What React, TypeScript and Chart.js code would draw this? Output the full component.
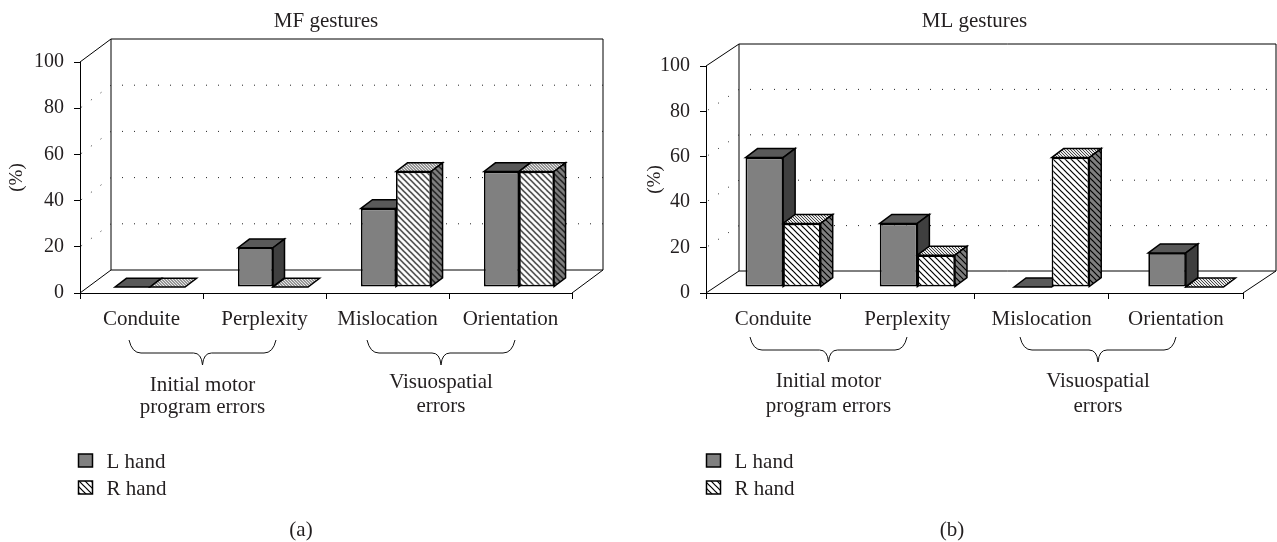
import React, { useEffect, useRef } from "react";
import { Chart, registerables } from "chart.js";

Chart.register(...registerables);

const categories = ["Conduite", "Perplexity", "Mislocation", "Orientation"];
const seriesNames = ["L hand", "R hand"];
const mfLeft = [0, 17, 34, 50];
const mfRight = [0, 0, 50, 50];
const mlLeft = [57, 28, 0, 15];
const mlRight = [28, 14, 57, 0];
const mfTitle = "MF gestures";
const mlTitle = "ML gestures";
const groupLines = [["Initial motor", "program errors"], ["Visuospatial", "errors"]];

const SERIF = '"Liberation Serif", serif';
const INK = "#231f20";

function stripes(period: number, lineWidth: number, bg: string, fg = "#000") {
  const c = document.createElement("canvas");
  c.width = c.height = period;
  const x = c.getContext("2d")!;
  x.fillStyle = bg;
  x.fillRect(0, 0, period, period);
  x.strokeStyle = fg;
  x.lineWidth = lineWidth;
  for (const o of [-period, 0, period]) {
    x.beginPath();
    x.moveTo(o - 1, -1);
    x.lineTo(o + period + 1, period + 1);
    x.stroke();
  }
  return x.createPattern(c, "repeat")!;
}

type Layout = {
  width: number; left: number; right: number; top: number; bottom: number;
  wallDx: number; wallDy: number; shiftX: number; shiftY: number; depthX: number; depthY: number;
  barPct: number;
  braces: { x0: number; x1: number; y: number; textY: number[] }[];
  legendX: number; legendY: number[]; tag: string; tagX: number;
};

function makeChart(canvas: HTMLCanvasElement, title: string, left: number[], right: number[], L: Layout) {
  const rFront = stripes(6, 1.2, "#fff");
  const rSide = stripes(6, 1.2, "#7f7f7f");
  const rTop = stripes(3, 0.9, "#e8e8e8", "#333");

  const poly = (ctx: CanvasRenderingContext2D, pts: number[][], fill: any) => {
    ctx.beginPath();
    pts.forEach((p, i) => (i ? ctx.lineTo(p[0], p[1]) : ctx.moveTo(p[0], p[1])));
    ctx.closePath();
    ctx.fillStyle = fill;
    ctx.fill();
    ctx.stroke();
  };

  const plugin = {
    id: "threeD",
    beforeDatasetsDraw(chart: any) {
      const ctx: CanvasRenderingContext2D = chart.ctx;
      const { left: l, right: r } = chart.chartArea;
      const y = chart.scales.y;
      const y0 = y.getPixelForValue(0);
      const y100 = y.getPixelForValue(100);
      const dx = L.wallDx, dy = L.wallDy;
      ctx.save();
      ctx.strokeStyle = "#000";
      ctx.lineWidth = 1;
      ctx.beginPath();
      ctx.moveTo(l, y100); ctx.lineTo(l + dx, y100 - dy); ctx.lineTo(r + dx, y100 - dy);
      ctx.lineTo(r + dx, y0 - dy); ctx.lineTo(l + dx, y0 - dy); ctx.lineTo(l + dx, y100 - dy);
      ctx.moveTo(l, y0); ctx.lineTo(l + dx, y0 - dy);
      ctx.moveTo(r, y0); ctx.lineTo(r + dx, y0 - dy);
      ctx.stroke();
      ctx.setLineDash([1, 11]);
      ctx.strokeStyle = "#222";
      for (const v of [20, 40, 60, 80]) {
        const p = y.getPixelForValue(v);
        ctx.beginPath();
        ctx.moveTo(l + dx + 11, p - dy);
        ctx.lineTo(r + dx, p - dy);
        ctx.moveTo(l + dx, p - dy);
        ctx.lineTo(l, p);
        ctx.stroke();
      }
      ctx.restore();

      ctx.save();
      ctx.translate(L.shiftX, L.shiftY);
      ctx.strokeStyle = "#000";
      ctx.lineWidth = 1.5;
      ctx.lineJoin = "miter";
      [0, 1].forEach((d) => {
        chart.getDatasetMeta(d).data.forEach((el: any) => {
          const { x, y: top, base, width } = el.getProps(["x", "y", "base", "width"], true);
          const x0 = x - width / 2, x1 = x + width / 2;
          const ex = L.depthX, ey = L.depthY;
          poly(ctx, [[x0, top], [x0 + ex, top - ey], [x1 + ex, top - ey], [x1, top]], d ? rTop : "#595959");
          if (base - top > 0.5) {
            poly(ctx, [[x1, top], [x1 + ex, top - ey], [x1 + ex, base - ey], [x1, base]], d ? rSide : "#3f3f3f");
          }
        });
      });
    },
    afterDatasetsDraw(chart: any) {
      const ctx: CanvasRenderingContext2D = chart.ctx;
      ctx.restore();
      ctx.save();
      ctx.fillStyle = INK;
      ctx.strokeStyle = "#111";
      ctx.lineWidth = 1;
      ctx.font = `21px ${SERIF}`;
      ctx.textAlign = "center";
      ctx.textBaseline = "middle";
      L.braces.forEach((b, i) => {
        const mid = (b.x0 + b.x1) / 2;
        const h = 13, tip = 12;
        ctx.beginPath();
        ctx.moveTo(b.x0, b.y);
        ctx.quadraticCurveTo(b.x0 + 3, b.y + h, b.x0 + 12, b.y + h);
        ctx.lineTo(mid - 9, b.y + h);
        ctx.quadraticCurveTo(mid - 1, b.y + h, mid, b.y + h + tip);
        ctx.quadraticCurveTo(mid + 1, b.y + h, mid + 9, b.y + h);
        ctx.lineTo(b.x1 - 12, b.y + h);
        ctx.quadraticCurveTo(b.x1 - 3, b.y + h, b.x1, b.y);
        ctx.stroke();
        groupLines[i].forEach((line, j) => ctx.fillText(line, mid, b.textY[j]));
      });
      ctx.fillText(L.tag, L.tagX, 530);
      ctx.textAlign = "left";
      seriesNames.forEach((name, i) => {
        const ly = L.legendY[i];
        ctx.fillStyle = i ? rFront : "#808080";
        ctx.strokeStyle = "#000";
        ctx.lineWidth = 1.5;
        ctx.fillRect(L.legendX, ly - 7, 14, 13);
        ctx.strokeRect(L.legendX, ly - 7, 14, 13);
        ctx.fillStyle = INK;
        ctx.fillText(name, L.legendX + 28, ly + 1);
      });
      ctx.restore();
    },
  };

  return new Chart(canvas, {
    type: "bar",
    data: {
      labels: categories,
      datasets: [
        { label: seriesNames[0], data: left, backgroundColor: "#808080" },
        { label: seriesNames[1], data: right, backgroundColor: rFront as any },
      ].map((d) => ({
        ...d,
        borderColor: "#000",
        borderWidth: 1.7,
        borderSkipped: false,
        clip: false as any,
        categoryPercentage: L.barPct,
        barPercentage: 1,
      })),
    },
    options: {
      responsive: false,
      animation: false,
      devicePixelRatio: 1,
      layout: { padding: { left: 6, right: L.width - L.right, top: 0, bottom: 0 } },
      plugins: {
        legend: { display: false },
        tooltip: { enabled: false },
        title: {
          display: true,
          fullSize: false,
          text: title,
          color: INK,
          font: { family: SERIF, size: 21, weight: "normal", lineHeight: 1 },
          padding: { top: 11, bottom: L.top - 11 - 21 },
        },
      },
      scales: {
        x: {
          grid: { drawOnChartArea: false, tickLength: 6, color: "#000", offset: true },
          border: { color: "#000", width: 1 },
          ticks: { color: INK, font: { family: SERIF, size: 21 }, padding: 8, maxRotation: 0, autoSkip: false },
          afterFit: (s: any) => { s.height = 542 - L.bottom; },
        },
        y: {
          min: 0,
          max: 100,
          grid: { drawOnChartArea: false, tickLength: 6, color: "#000" },
          border: { color: "#000", width: 1 },
          ticks: { stepSize: 20, color: INK, font: { family: SERIF, size: 20 }, padding: 10 },
          title: { display: true, text: "(%)", color: INK, font: { family: SERIF, size: 19 }, padding: { top: 0, bottom: 0 } },
          afterFit: (s: any) => { s.width = L.left - 6; },
        },
      },
    } as any,
    plugins: [plugin as any],
  });
}

const layoutA: Layout = {
  width: 638, left: 80, right: 572, top: 62, bottom: 293,
  wallDx: 31, wallDy: 23, shiftX: 8.5, shiftY: -6, depthX: 11.5, depthY: 8.7,
  barPct: 0.57,
  braces: [
    { x0: 129, x1: 276, y: 340, textY: [385, 407] },
    { x0: 367, x1: 515, y: 340, textY: [382, 406] },
  ],
  legendX: 78.5, legendY: [461, 488], tag: "(a)", tagX: 301,
};
const layoutB: Layout = {
  width: 639, left: 68, right: 605, top: 66, bottom: 293,
  wallDx: 33, wallDy: 22, shiftX: 10, shiftY: -6, depthX: 12, depthY: 9,
  barPct: 0.56,
  braces: [
    { x0: 112, x1: 269, y: 337, textY: [381, 406] },
    { x0: 382, x1: 538, y: 337, textY: [381, 406] },
  ],
  legendX: 68.5, legendY: [461, 488], tag: "(b)", tagX: 314,
};

export default function App() {
  const a = useRef<HTMLCanvasElement>(null);
  const b = useRef<HTMLCanvasElement>(null);
  useEffect(() => {
    const c1 = makeChart(a.current!, mfTitle, mfLeft, mfRight, layoutA);
    const c2 = makeChart(b.current!, mlTitle, mlLeft, mlRight, layoutB);
    return () => { c1.destroy(); c2.destroy(); };
  }, []);
  return (
    <div style={{ position: "fixed", inset: 0, background: "#fff", overflow: "hidden" }}>
      <canvas ref={a} width={638} height={542} style={{ position: "absolute", left: 0, top: 0, width: 638, height: 542 }} />
      <canvas ref={b} width={639} height={542} style={{ position: "absolute", left: 638, top: 0, width: 639, height: 542 }} />
    </div>
  );
}
